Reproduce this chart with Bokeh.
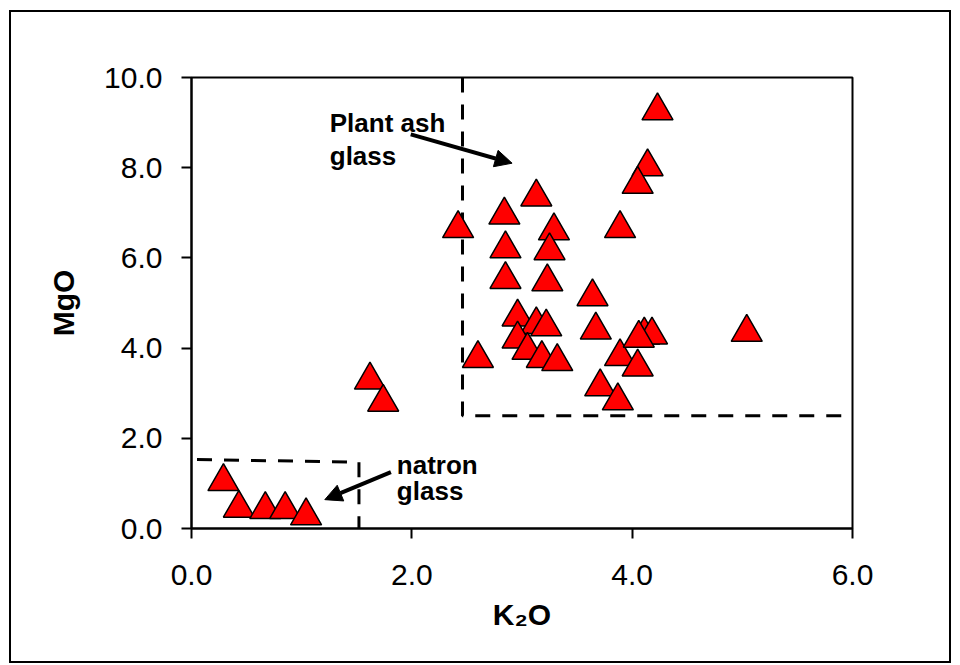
from bokeh.plotting import figure
from bokeh.models import (Range1d, FixedTicker, NumeralTickFormatter, Arrow,
                          NormalHead, ColumnDataSource, Label)
from bokeh.transform import dodge
from bokeh.embed import file_html
from bokeh.resources import INLINE

# ---- data ----
k2o = [0.29, 0.43, 0.67, 0.85, 1.04,
       1.62, 1.74,
       4.23, 4.14, 4.05, 3.89, 3.13, 2.42, 2.84, 2.85, 3.29, 3.25,
       2.85, 3.23, 3.64, 2.96, 3.13, 3.22, 2.96, 3.05, 3.18, 3.32,
       2.60, 3.67, 3.89, 4.05, 3.71, 3.87, 4.11, 4.18, 4.06, 5.04]
mgo = [1.14, 0.55, 0.52, 0.52, 0.38,
       3.39, 2.90,
       9.36, 8.12, 7.73, 6.75, 7.45, 6.75, 7.05, 6.30, 6.70, 6.26,
       5.62, 5.57, 5.24, 4.79, 4.62, 4.57, 4.30, 4.05, 3.87, 3.80,
       3.87, 4.50, 3.91, 3.68, 3.24, 2.93, 4.39, 4.39, 4.32, 4.45]

x_ticks = [0, 2, 4, 6]
y_ticks = [0, 2, 4, 6, 8, 10]

natron_box_x = [0.05, 1.52, 1.52]
natron_box_y = [1.53, 1.47, 0.0]
plant_box_x = [2.46, 2.46, 6.0]
plant_box_y = [10.0, 2.5, 2.5]

FONT = "Liberation Sans"

p = figure(width=942, height=653, output_backend="svg", toolbar_location=None,
           x_range=Range1d(0, 6), y_range=Range1d(0, 10),
           min_border_left=182, min_border_right=99,
           min_border_top=67, min_border_bottom=135)
p.border_fill_color = None
p.background_fill_color = "white"
p.outline_line_color = "black"
p.outline_line_width = 2
p.xgrid.visible = False
p.ygrid.visible = False
p.styles = {"margin": "10px 0px 0px 9px",
            "outline": "2px solid black", "outline-offset": "-2px"}

for ax, ticks in ((p.xaxis[0], x_ticks), (p.yaxis[0], y_ticks)):
    ax.ticker = FixedTicker(ticks=ticks, minor_ticks=[])
    ax.formatter = NumeralTickFormatter(format="0.0")
    ax.axis_line_width = 2
    ax.major_tick_line_width = 2
    ax.major_tick_out = 10
    ax.major_tick_in = 0
    ax.minor_tick_line_color = None
    ax.major_label_text_font = FONT
    ax.major_label_text_font_size = "30px"
    ax.major_label_text_color = "black"
    ax.axis_label_text_font = FONT
    ax.axis_label_text_font_style = "bold"
    ax.axis_label_text_font_size = "30px"
    ax.axis_label_text_color = "black"

p.xaxis.axis_label = "K₂O"
p.yaxis.axis_label = "MgO"
p.xaxis.major_label_standoff = 26
p.yaxis.major_label_standoff = 19
p.xaxis.axis_label_standoff = 10
p.yaxis.axis_label_standoff = 21

# dashed region boundaries
p.line(natron_box_x, natron_box_y, line_color="black", line_width=3, line_dash="15 12")
p.line(plant_box_x, plant_box_y, line_color="black", line_width=3, line_dash="15 12")

src = ColumnDataSource(dict(k2o=k2o, mgo=mgo))
p.scatter(x="k2o", y=dodge("mgo", -0.1, range=p.y_range), source=src,
          marker="triangle", size=31, fill_color="#FF0000",
          line_color="black", line_width=1.5)

# annotations
for xs, ys, xe, ye in ((1.99, 8.74, 2.91, 8.10), (1.81, 1.25, 1.21, 0.64)):
    p.add_layout(Arrow(end=NormalHead(size=17, fill_color="black", line_color="black"),
                       x_start=xs, y_start=ys, x_end=xe, y_end=ye,
                       line_color="black", line_width=4))

for txt, x, y in (("Plant ash", 1.255, 9.00), ("glass", 1.255, 8.26),
                  ("natron", 1.864, 1.41), ("glass", 1.864, 0.84)):
    p.add_layout(Label(x=x, y=y, text=txt, text_font=FONT, text_font_style="bold",
                       text_font_size="26px", text_color="black",
                       text_align="left", text_baseline="alphabetic"))

open("out.html", "w").write(file_html(p, INLINE))
